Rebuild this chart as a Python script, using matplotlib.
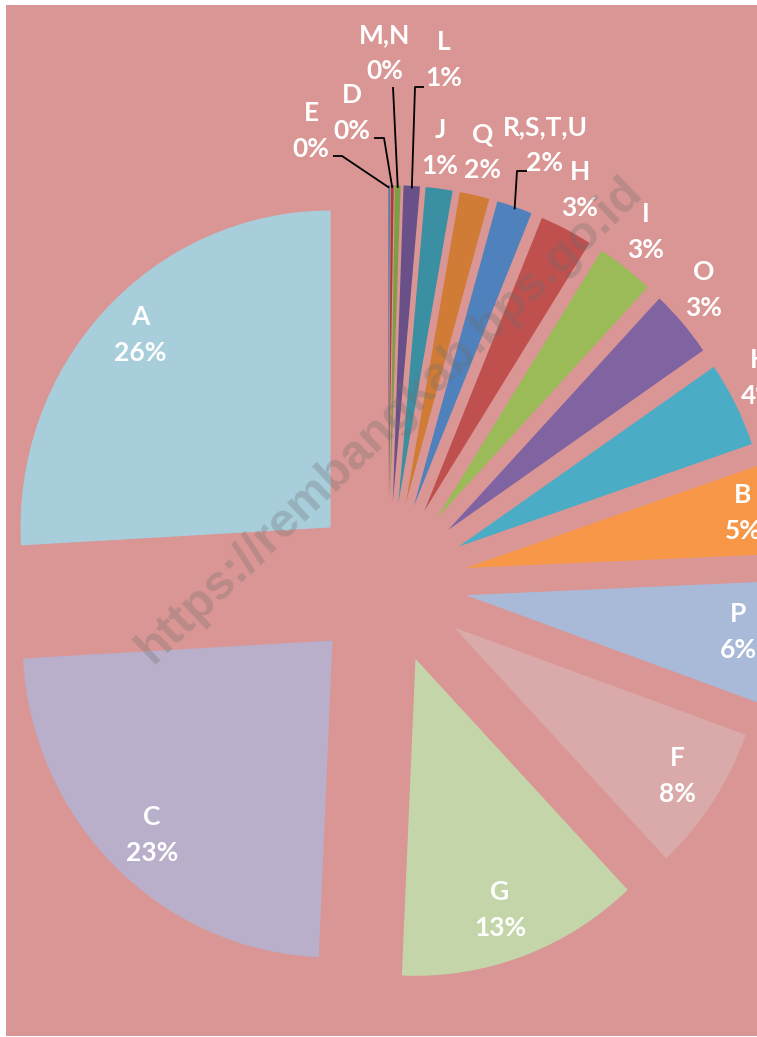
import numpy as np
import matplotlib
matplotlib.use("Agg")
import matplotlib.pyplot as plt

# ---- data ----
categories = ["E", "D", "M,N", "L", "J", "Q", "R,S,T,U", "H", "I", "O",
              "K", "B", "P", "F", "G", "C", "A"]
shares = [0.1, 0.15, 0.3, 0.85, 1.4, 1.55, 1.85, 2.75, 3.0, 3.45,
          4.35, 4.55, 6.2, 7.5, 12.7, 23.4, 25.9]
pct_labels = ["0%", "0%", "0%", "1%", "1%", "2%", "2%", "3%", "3%", "3%",
              "4%", "5%", "6%", "8%", "13%", "23%", "26%"]
colors = ["#5B7BA8", "#A33E3B", "#7F9D45", "#6A5089", "#3A8FA3", "#D07C36",
          "#4F81BD", "#C0504D", "#9BBB59", "#8064A2", "#4BACC6", "#F79646",
          "#A9B9D8", "#D9AAA9", "#C4D6A9", "#B9AFCA", "#A8CEDC"]

# ---- layout (pixel space of the 757x1037 image) ----
W, H = 757, 1037
CX, CY, RX, RY = 388, 583, 310, 317
EXPLODE = 0.255

def X(px):
    return (px - CX) / RX

def Y(py):
    return (CY - py) / RY

# label block centres (pixels)
label_pos = {
    "E": (311, 131), "D": (352, 113), "M,N": (385, 53), "L": (444, 60),
    "J": (440, 148), "Q": (483, 152), "R,S,T,U": (545, 145), "H": (580, 190),
    "I": (646, 232), "O": (704, 290), "K": (759, 378), "B": (743, 513),
    "P": (738, 632), "F": (677, 776), "G": (500, 910), "C": (152, 835),
    "A": (140, 335),
}
# leader lines: label-side points (pixels), the line ends on the slice arc
leaders = {
    "E": [(333, 156), (342, 156)],
    "D": [(374, 138), (384, 138)],
    "M,N": [(393, 87)],
    "L": [(424, 87), (415, 87)],
    "R,S,T,U": [(527, 171), (517, 171)],
}

fig = plt.figure(figsize=(W / 100, H / 100), dpi=100)
fig.patch.set_facecolor("white")
ax = fig.add_axes([6 / W, 1 / H, (W - 6) / W, (H - 6) / H])
ax.set_facecolor("#D99694")

wedges, _ = ax.pie(shares, explode=[EXPLODE] * len(shares), colors=colors,
                   startangle=90, counterclock=False, radius=1, frame=True,
                   wedgeprops=dict(linewidth=0))
ax.set_aspect("auto")
ax.set_xlim(X(6), X(W))
ax.set_ylim(Y(H - 1), Y(5))
ax.set_xticks([])
ax.set_yticks([])
for s in ax.spines.values():
    s.set_visible(False)

font = ["Lato", "DejaVu Sans"]
for cat, pct in zip(categories, pct_labels):
    px, py = label_pos[cat]
    ax.text(X(px), Y(py), f"{cat}\n{pct}", ha="center", va="center",
            color="white", fontsize=19, fontweight="bold", family=font,
            linespacing=1.6, zorder=5)

for w, cat in zip(wedges, categories):
    if cat not in leaders:
        continue
    mid = np.deg2rad((w.theta1 + w.theta2) / 2)
    ex = w.center[0] + w.r * np.cos(mid)
    ey = w.center[1] + w.r * np.sin(mid) - 0.008
    xs = [X(p[0]) for p in leaders[cat]] + [ex]
    ys = [Y(p[1]) for p in leaders[cat]] + [ey]
    ax.plot(xs, ys, color="black", lw=1.3, zorder=4, solid_capstyle="butt")

ax.text(X(390), Y(420), "https://rembangkab.bps.go.id", rotation=43.8,
        rotation_mode="anchor", ha="center", va="center", fontsize=35,
        fontweight="bold", family=["Liberation Sans", "DejaVu Sans"],
        color="#6e6e6e", alpha=0.3, zorder=6)

fig.savefig("out.png", dpi=100, facecolor="white")
